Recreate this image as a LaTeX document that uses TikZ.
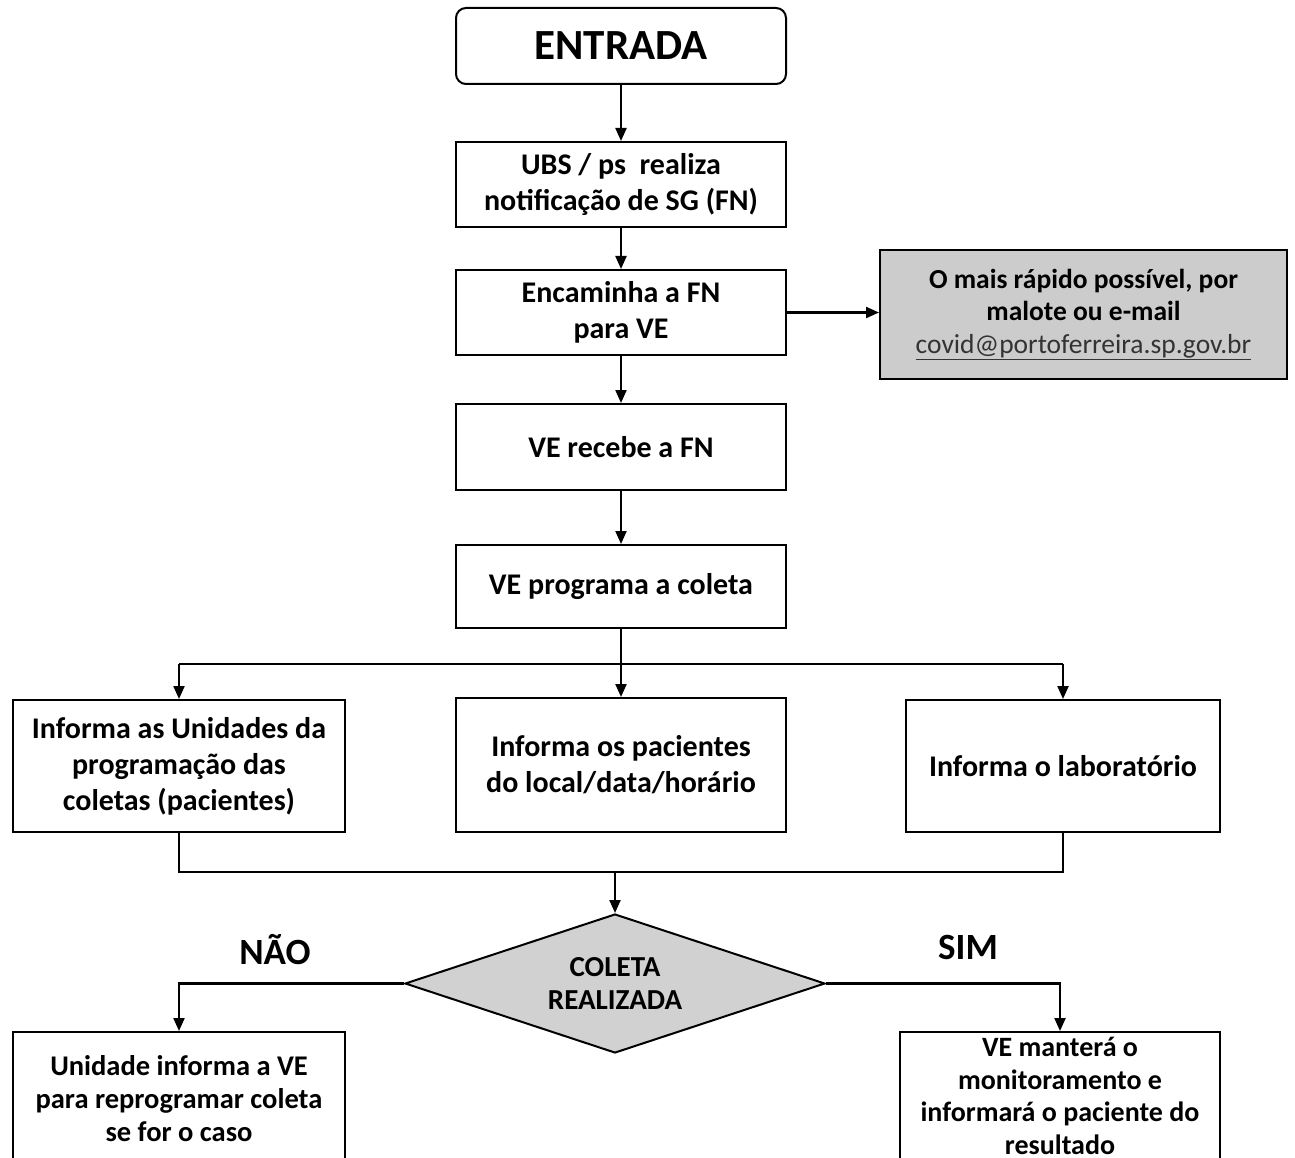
\documentclass[tikz,border=0pt]{standalone}
\usepackage{fontspec}
\setmainfont{Carlito}
\usetikzlibrary{shapes.geometric,arrows.meta}
\begin{document}
\begin{tikzpicture}[x=1pt,y=-1pt,
  line width=2.2pt,
  arr/.style={-{Triangle[length=13pt,width=11pt]}},
  box/.style={draw, line width=2pt, fill=white, align=center, inner sep=2pt,
     font=\fontsize{30}{36}\selectfont\bfseries},
  smallbox/.style={box, font=\fontsize{28.5}{33}\selectfont\bfseries},
  lbl/.style={font=\fontsize{37}{42}\selectfont\bfseries}]
\useasboundingbox (0,0) rectangle (1295,1158);
\clip (0,0) rectangle (1295,1158);
\fill[white] (0,0) rectangle (1295,1158);

\node[box, rounded corners=10pt, minimum width=330pt, minimum height=76pt,
  font=\fontsize{43}{50}\selectfont\bfseries] (entrada) at (621,46) {ENTRADA};
\node[box, minimum width=330pt, minimum height=85pt] (ubs) at (621,184.5)
  {UBS / ps\ \ realiza\\notificação de SG (FN)};
\node[box, minimum width=330pt, minimum height=85pt] (enc) at (621,312.5)
  {Encaminha a FN\\para VE};
\node[box, minimum width=330pt, minimum height=86pt] (rec) at (621,447)
  {VE recebe a FN};
\node[box, minimum width=330pt, minimum height=83pt] (prog) at (621,586.5)
  {VE programa a coleta};
\node[smallbox, fill=black!20, minimum width=407pt, minimum height=129pt,
  font=\fontsize{27.5}{32.5}\selectfont\bfseries] (note) at (1083.5,314.5)
  {O mais rápido possível, por\\malote ou e-mail\\{\mdseries\color{black!80}\underline{covid@portoferreira.sp.gov.br}}};

\node[box, minimum width=332pt, minimum height=132pt] (infu) at (179,766)
  {Informa as Unidades da\\programação das\\coletas (pacientes)};
\node[box, minimum width=330pt, minimum height=134pt] (infp) at (621,765)
  {Informa os pacientes\\do local/data/horário};
\node[box, minimum width=314pt, minimum height=132pt] (infl) at (1063,766)
  {Informa o laboratório};

\node[draw, line width=2pt, diamond, aspect=3, fill=black!18, inner sep=0pt,
  minimum width=420pt, minimum height=139pt, align=center,
  font=\fontsize{29}{33}\selectfont\bfseries] (dia) at (615,983.5)
  {COLETA\\REALIZADA};

\node[smallbox, minimum width=332pt, minimum height=134pt] (nao) at (179,1099)
  {Unidade informa a VE\\para reprogramar coleta\\se for o caso};
\node[smallbox, minimum width=320pt, minimum height=128pt,
  font=\fontsize{28}{32.5}\selectfont\bfseries] (sim) at (1060,1096)
  {VE manterá o\\monitoramento e\\informará o paciente do\\resultado};

\node[lbl] (lnao) at (275,950) {NÃO};
\node[lbl] (lsim) at (968,947) {SIM};

\draw[arr] (entrada) -- (ubs);
\draw[arr] (ubs) -- (enc);
\draw[arr] (enc) -- (rec);
\draw[arr] (rec) -- (prog);
\draw[arr] (enc.east) -- (enc.east -| note.west);

\coordinate (br) at (621,664);
\draw[arr] (prog.south) -- (infp.north);
\draw (infu.north |- br) -- (infl.north |- br);
\draw[arr] (infu.north |- br) -- (infu.north);
\draw[arr] (infl.north |- br) -- (infl.north);

\coordinate (mg) at (615,872);
\draw (infu.south) |- (infl.south |- mg) -- (infl.south);
\draw[arr] (mg) -- (dia.north);

\draw[arr] (dia.west) -| (nao.north);
\draw[arr] (dia.east) -| (sim.north);
\end{tikzpicture}
\end{document}
